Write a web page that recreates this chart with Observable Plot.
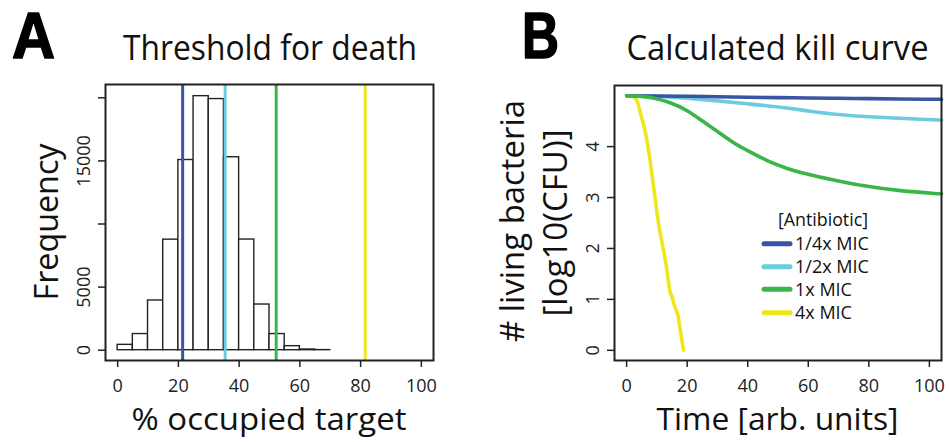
<!DOCTYPE html>
<html>
<head>
<meta charset="utf-8">
<script src="https://cdn.jsdelivr.net/npm/d3@7"></script>
<script src="https://cdn.jsdelivr.net/npm/@observablehq/plot@0.6"></script>
<style>
  html, body { margin: 0; padding: 0; background: #fff; }
  #wrap { position: relative; width: 949px; height: 442px; overflow: hidden; }
  #panelA, #panelB { position: absolute; top: 0; }
  #panelA { left: 0; }
  #panelB { left: 474px; }
  #overlay { position: absolute; left: 0; top: 0; pointer-events: none; }
  #overlay text { font-family: "Open Sans", sans-serif; fill: #111; }
  #overlay text.letter { font-family: "Liberation Sans", Arial, sans-serif; fill: #000; stroke: #000; stroke-width: 1.6px; stroke-linejoin: round; }
</style>
</head>
<body>
<div id="wrap">
  <div id="panelA"></div>
  <div id="panelB"></div>
  <svg id="overlay" width="949" height="442"></svg>
</div>
<script>
// ---------- Panel A data: histogram of % occupied target ----------
const binStarts = [0, 5, 10, 15, 20, 25, 30, 35, 40, 45, 50, 55, 60, 65];
const binWidth = 5;
const binCounts = [425, 1280, 3940, 8760, 15070, 20130, 19900, 15290, 8770, 3620, 1280, 320, 55, 10];
const thresholdValues = [21.4, 35.4, 52.2, 81.5];
const seriesLabels = ["1/4x MIC", "1/2x MIC", "1x MIC", "4x MIC"];
const seriesColors = ["#3a54a4", "#6dcbe0", "#3ab54a", "#f0e61c"];
const xTicksA = [0, 20, 40, 60, 80, 100];
const yTicksA = [0, 5000, 10000, 15000, 20000];
const yLabelsA = ["0", "5000", "", "15000", ""];

// ---------- Panel B data: calculated kill curves ----------
const timeQuarter = [0, 10, 20, 30, 40, 50, 60, 70, 80, 90, 100, 104];
const valQuarter  = [5.0, 4.995, 4.99, 4.98, 4.97, 4.962, 4.955, 4.948, 4.942, 4.936, 4.93, 4.93];
const timeHalf = [0, 10, 20, 30, 40, 50, 60, 70, 80, 90, 100, 104];
const valHalf  = [5.0, 4.99, 4.95, 4.90, 4.84, 4.78, 4.70, 4.625, 4.585, 4.555, 4.53, 4.52];
const timeOne = [0, 5, 9, 14, 20, 25, 31, 36, 42, 47, 53, 58, 64, 68, 79, 90, 104];
const valOne  = [5.0, 4.99, 4.96, 4.88, 4.72, 4.50, 4.26, 4.04, 3.86, 3.70, 3.57, 3.48, 3.40, 3.35, 3.22, 3.13, 3.07];
const timeFour = [0, 1.5, 3.1, 4.8, 6.4, 7.5, 8.6, 10.5, 13.0, 14.4, 15.0, 15.5, 16.6, 17.0, 17.4, 18.8];
const valFour  = [5.0, 4.99, 4.94, 4.61, 4.22, 3.83, 3.35, 2.51, 1.70, 1.14, 1.05, 0.94, 0.75, 0.68, 0.52, 0.0];
const xTicksB = [0, 20, 40, 60, 80, 100];
const yTicksB = [0, 1, 2, 3, 4];

// ---------- Build tables ----------
const hist = binStarts.map((s, i) => ({x1: s, x2: s + binWidth, count: binCounts[i]}));
const thresholds = thresholdValues.map((v, i) => ({value: v, color: seriesColors[i]}));
const seriesTimes = [timeQuarter, timeHalf, timeOne, timeFour];
const seriesVals = [valQuarter, valHalf, valOne, valFour];
function rows(i) {
  return seriesTimes[i].map((t, j) => ({series: seriesLabels[i], color: seriesColors[i], t, v: seriesVals[i][j]}));
}
const yellowCurve = rows(3);
const smoothCurves = [...rows(1), ...rows(0), ...rows(2)];

const baseStyle = {fontFamily: "Open Sans, sans-serif", fontSize: "18px", color: "#222", background: "transparent", overflow: "visible"};

const plotA = Plot.plot({
  width: 474, height: 442,
  marginLeft: 105, marginRight: 41, marginTop: 84, marginBottom: 82,
  x: {domain: [-4, 104]},
  y: {domain: [-816, 21054]},
  color: {type: "identity"},
  style: baseStyle,
  marks: [
    Plot.rect(hist, {x1: "x1", x2: "x2", y1: d => 0, y2: "count", fill: "white", stroke: "#222", strokeWidth: 1.4}),
    Plot.ruleX(thresholds, {x: "value", stroke: "color", strokeWidth: 3}),
    Plot.frame({stroke: "#222", strokeWidth: 2}),
    Plot.axisX({ticks: xTicksA, tickSize: 7, tickPadding: 12, label: null, stroke: "#222", strokeWidth: 1.5}),
    Plot.axisY({ticks: yTicksA, tickSize: 7, tickPadding: 9, tickRotate: -90, label: null, stroke: "#222", strokeWidth: 1.5,
      tickFormat: d => yLabelsA[yTicksA.indexOf(d)]})
  ]
});
document.getElementById("panelA").appendChild(plotA);

const plotB = Plot.plot({
  width: 475, height: 442,
  marginLeft: 140, marginRight: 8, marginTop: 85, marginBottom: 82,
  x: {domain: [-4, 104]},
  y: {domain: [-0.2, 5.2]},
  color: {type: "identity"},
  style: baseStyle,
  marks: [
    Plot.line(yellowCurve, {x: "t", y: "v", stroke: "color", strokeWidth: 3.6, curve: "monotone-x"}),
    Plot.line(smoothCurves, {x: "t", y: "v", z: "series", stroke: "color", strokeWidth: 3.6, curve: "basis"}),
    Plot.frame({stroke: "#222", strokeWidth: 2}),
    Plot.axisX({ticks: xTicksB, tickSize: 7, tickPadding: 12, label: null, stroke: "#222", strokeWidth: 1.5}),
    Plot.axisY({ticks: yTicksB, tickSize: 7, tickPadding: 9, tickRotate: -90, label: null, stroke: "#222", strokeWidth: 1.5,
      tickFormat: d => String(d)})
  ]
});
document.getElementById("panelB").appendChild(plotB);

// ---------- Overlay text: panel letters, titles, axis labels, legend ----------
const ov = d3.select("#overlay");
function label(txt, x, y, size, len, opts = {}) {
  const t = ov.append("text")
    .attr("x", x).attr("y", y)
    .attr("font-size", size)
    .attr("text-anchor", opts.anchor || "middle")
    .attr("font-weight", opts.weight || 400)
    .text(txt);
  if (opts.cls) t.attr("class", opts.cls);
  if (len) t.attr("textLength", len).attr("lengthAdjust", "spacingAndGlyphs");
  if (opts.rotate) t.attr("transform", `rotate(-90, ${x}, ${y})`);
  return t;
}
label("A", 12, 58, 64, 43, {anchor: "start", weight: 700, cls: "letter"});
label("B", 522, 58, 64, 37, {anchor: "start", weight: 700, cls: "letter"});
label("Threshold for death", 270, 60, 34, 294);
label("Calculated kill curve", 777.5, 60, 34, 302);
label("Frequency", 58, 222, 33, 157, {rotate: true});
label("% occupied target", 269, 430, 31, 275);
label("# living bacteria", 524, 221, 32, 242, {rotate: true});
label("[log10(CFU)]", 567, 223, 32, 187, {rotate: true});
label("Time [arb. units]", 777.5, 430, 31, 242);

// legend
label("[Antibiotic]", 823, 226, 17.5, 90);
const legendRows = [243.7, 266.7, 289.3, 312.7];
seriesLabels.forEach((s, i) => {
  ov.append("line")
    .attr("x1", 764).attr("x2", 790)
    .attr("y1", legendRows[i]).attr("y2", legendRows[i])
    .attr("stroke", seriesColors[i]).attr("stroke-width", 5).attr("stroke-linecap", "round");
  label(s, 795, legendRows[i] + 6.5, 18, null, {anchor: "start"});
});
</script>
</body>
</html>
